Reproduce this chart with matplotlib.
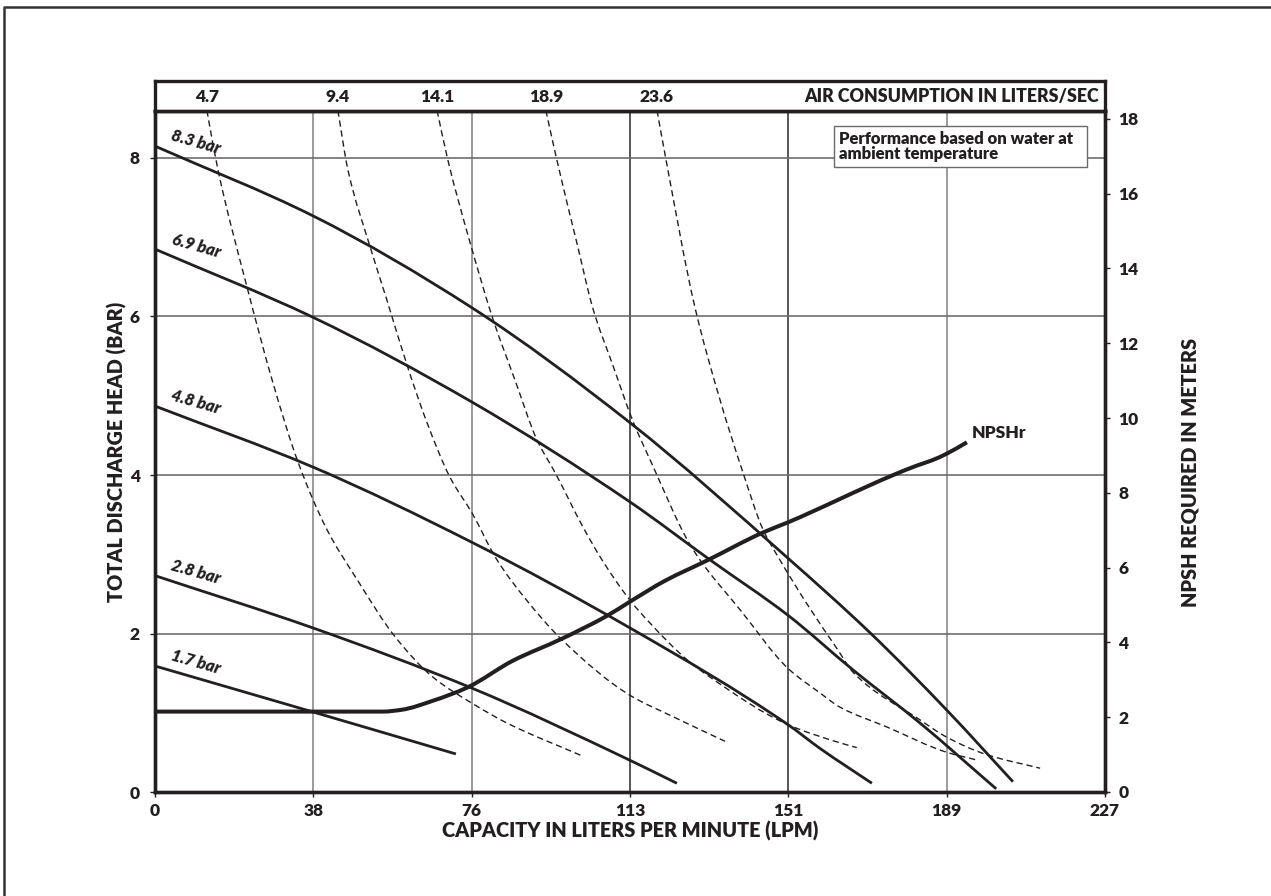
import matplotlib
matplotlib.use("Agg")
import matplotlib.pyplot as plt
import numpy as np
from matplotlib.lines import Line2D
from matplotlib.patches import Rectangle, PathPatch
from matplotlib.path import Path

# ---------------- data ----------------
capacity_tick_labels = ["0", "38", "76", "113", "151", "189", "227"]
head_ticks = [0, 2, 4, 6, 8]
npsh_ticks = [0, 2, 4, 6, 8, 10, 12, 14, 16, 18]

pressure_labels = ["8.3 bar", "6.9 bar", "4.8 bar", "2.8 bar", "1.7 bar"]
cap_83 = [0, 37.75, 75.75, 113.5, 151.25, 170.85, 189.25, 205.0]
head_83 = [8.15, 7.27, 6.11, 4.66, 2.95, 2.01, 1.03, 0.13]
cap_69 = [0, 37.75, 75.75, 113.5, 132.6, 151.25, 166.8, 182.8, 201.0]
head_69 = [6.85, 5.99, 4.92, 3.66, 2.93, 2.23, 1.54, 0.87, 0.04]
cap_48 = [0, 37.75, 75.75, 113.5, 151.25, 158.9, 171.3]
head_48 = [4.87, 4.10, 3.15, 2.07, 0.85, 0.55, 0.11]
cap_28 = [0, 37.75, 75.75, 113.5, 124.7]
head_28 = [2.73, 2.07, 1.31, 0.40, 0.11]
cap_17 = [0, 37.75, 71.9]
head_17 = [1.59, 1.01, 0.48]

npsh_cap = [0, 54.5, 59.0, 66.4, 74.55, 85.5, 97.25, 108.0, 113.5, 121.9,
            131.9, 145.3, 151.25, 176.3, 182.1, 185.7, 189.25, 194.0]
npsh_m = [2.15, 2.15, 2.20, 2.44, 2.79, 3.51, 4.10, 4.71, 5.09, 5.65,
          6.19, 6.94, 7.21, 8.47, 8.73, 8.87, 9.05, 9.35]

air_labels = ["4.7", "9.4", "14.1", "18.9", "23.6"]
air_47_cap = [12.4, 15.05, 22.0, 28.2, 34.2, 41.1, 48.3, 57.35, 66.4, 75.75, 84.1, 102.3]
air_47_head = [8.6, 7.85, 6.37, 5.16, 4.16, 3.31, 2.68, 1.96, 1.45, 1.12, 0.87, 0.45]
air_94_cap = [43.7, 46.1, 51.4, 55.4, 60.45, 65.0, 70.5, 75.75, 81.7, 88.8, 97.25, 113.5, 123.8, 136.2]
air_94_head = [8.6, 7.85, 6.88, 6.21, 5.35, 4.66, 3.97, 3.52, 2.93, 2.42, 1.92, 1.22, 0.95, 0.64]
air_141_cap = [67.4, 70.0, 75.3, 80.8, 86.0, 91.3, 95.6, 102.3, 106.8, 113.5, 118.3, 127.1, 132.6, 151.25, 163.7, 167.7]
air_141_head = [8.6, 7.97, 6.93, 5.96, 5.20, 4.44, 4.03, 3.34, 2.93, 2.42, 2.13, 1.67, 1.45, 0.85, 0.62, 0.56]
air_189_cap = [93.4, 96.0, 100.8, 104.7, 109.5, 114.2, 119.0, 127.1, 130.2, 139.8, 151.25, 158.9, 163.7, 174.9, 189.25, 196.7]
air_189_head = [8.6, 7.98, 6.93, 6.09, 5.37, 4.68, 4.11, 3.19, 2.93, 2.30, 1.56, 1.25, 1.07, 0.82, 0.50, 0.40]
air_236_cap = [119.95, 122.1, 129.0, 135.0, 140.5, 145.3, 149.3, 155.7, 163.2, 166.8, 182.8, 189.25, 198.8, 211.5]
air_236_head = [8.6, 7.98, 6.12, 4.95, 4.03, 3.31, 2.93, 2.38, 1.79, 1.51, 0.91, 0.69, 0.47, 0.30]

# ---------------- style ----------------
INK = "#231f20"
plt.rcParams["font.family"] = ["Lato", "DejaVu Sans"]
WT = "heavy"

W, H = 1271, 896
fig = plt.figure(figsize=(W / 100, H / 100), dpi=100)
fig.patch.set_facecolor("white")


def fx(px):
    return px / W


def fy(py):
    return 1 - py / H


def smooth_curve(a, xs, ys, **kw):
    """Draw a smooth Bezier path through the read points (monotone Hermite tangents)."""
    x = np.asarray(xs, float)
    y = np.asarray(ys, float)
    n = len(x)
    h = np.diff(x)
    d = np.diff(y) / h
    m = np.zeros(n)
    m[0], m[-1] = d[0], d[-1]
    for k in range(1, n - 1):
        if d[k - 1] * d[k] <= 0:
            m[k] = 0.0
        else:
            w1 = 2 * h[k] + h[k - 1]
            w2 = h[k] + 2 * h[k - 1]
            m[k] = (w1 + w2) / (w1 / d[k - 1] + w2 / d[k])
    verts = [(x[0], y[0])]
    codes = [Path.MOVETO]
    for k in range(n - 1):
        t = h[k] / 3.0
        verts += [(x[k] + t, y[k] + m[k] * t),
                  (x[k + 1] - t, y[k + 1] - m[k + 1] * t),
                  (x[k + 1], y[k + 1])]
        codes += [Path.CURVE4] * 3
    patch = PathPatch(Path(verts, codes), fc="none", transform=a.transData, **kw)
    a.add_patch(patch)
    return patch


L, R, T, B, BT = 155, 1105, 111, 792, 81
ax = fig.add_axes([fx(L), fy(B), fx(R) - fx(L), fy(T) - fy(B)])
band = fig.add_axes([fx(L), fy(T), fx(R) - fx(L), fy(BT) - fy(T)])

XMAX = 227.0
ax.set_xlim(0, XMAX)
ax.set_ylim(0, (B - T) / 79.25)

ax2 = ax.twinx()
ax2.set_ylim(0, (B - T) / 37.4)

# ticks
xt = np.linspace(0, XMAX, len(capacity_tick_labels))
ax.set_xticks(xt)
ax.set_xticklabels(capacity_tick_labels)
ax.set_yticks(head_ticks)
ax.set_yticklabels([str(v) for v in head_ticks])
ax2.set_yticks(npsh_ticks)
ax2.set_yticklabels([str(v) for v in npsh_ticks])

for a in (ax, ax2):
    a.tick_params(colors=INK, labelsize=12.5, width=1.0, length=3.5,
                  direction="out", labelcolor=INK)
    for lab in a.get_xticklabels() + a.get_yticklabels():
        lab.set_fontweight(WT)
ax.tick_params(axis="x", pad=4.5)
ax.tick_params(axis="y", pad=7.5)
ax2.tick_params(axis="y", pad=6)

# grid
for i, v in enumerate(xt[1:-1], start=1):
    col = "#3a3a3a" if capacity_tick_labels[i] in ("113", "151") else "#8a8a8a"
    ax.axvline(v, color=col, lw=1.2, zorder=1)
for v in head_ticks[1:]:
    ax.axhline(v, color="#6e6e6e", lw=1.2, zorder=1)

for a in (ax, ax2):
    for s in a.spines.values():
        s.set_linewidth(2.4)
        s.set_color(INK)

# pressure curves
series = [(cap_83, head_83), (cap_69, head_69), (cap_48, head_48),
          (cap_28, head_28), (cap_17, head_17)]
for (cx, hy), lab in zip(series, pressure_labels):
    smooth_curve(ax, cx, hy, ec=INK, lw=2.0, zorder=4, capstyle="butt")
    ax.annotate(lab, xy=(cx[0], hy[0]), xytext=(29.5, 2.5),
                textcoords="offset points", ha="center", va="center",
                rotation=-16, fontsize=12, fontstyle="italic",
                fontweight=WT, color=INK, zorder=6)

# air consumption curves
air_series = [(air_47_cap, air_47_head), (air_94_cap, air_94_head),
              (air_141_cap, air_141_head), (air_189_cap, air_189_head),
              (air_236_cap, air_236_head)]
for cx, hy in air_series:
    smooth_curve(ax, cx, hy, ec=INK, lw=1.0, ls=(0, (4.5, 2.8)), zorder=3)

# NPSHr
smooth_curve(ax2, npsh_cap, npsh_m, ec=INK, lw=2.9, zorder=5, capstyle="butt")
ax2.annotate("NPSHr", xy=(npsh_cap[-1], npsh_m[-1]), xytext=(3.6, 7),
             textcoords="offset points", ha="left", va="center",
             fontsize=12.5, fontweight=WT, color=INK)

# band with air consumption labels
band.set_xlim(0, XMAX)
band.set_ylim(0, 1)
band.set_xticks([])
band.set_yticks([])
for s in band.spines.values():
    s.set_linewidth(2.4)
    s.set_color(INK)
for (cx, hy), lab in zip(air_series, air_labels):
    band.text(cx[0], 0.48, lab, ha="center", va="center", fontsize=12.5,
              fontweight=WT, color=INK)
band.text(0.994, 0.48, "AIR CONSUMPTION IN LITERS/SEC", transform=band.transAxes,
          ha="right", va="center", fontsize=12.8, fontweight=WT, color=INK)

# note box
ax.add_patch(Rectangle((fx(834), fy(167)), fx(1087) - fx(834), fy(126) - fy(167),
                       transform=fig.transFigure, fc="white", ec="#6a6a6a",
                       lw=1.0, zorder=3.5))
ax.text(fx(839), fy(146.5), "Performance based on water at\nambient temperature",
        transform=fig.transFigure, ha="left", va="center", fontsize=12,
        fontweight=WT, color=INK, linespacing=0.9, zorder=7)

# axis titles
fig.text(fx(117), fy(452), "TOTAL DISCHARGE HEAD (BAR)", rotation=90,
         ha="center", va="center", fontsize=14.3, fontweight=WT, color=INK)
fig.text(fx(1190), fy(472), "NPSH REQUIRED IN METERS", rotation=90,
         ha="center", va="center", fontsize=14.3, fontweight=WT, color=INK)
fig.text(fx(630), fy(831), "CAPACITY IN LITERS PER MINUTE (LPM)",
         ha="center", va="center", fontsize=14.3, fontweight=WT, color=INK)

# outer frame (top and left edges visible)
fig.add_artist(Line2D([fx(4), fx(4), 1.0], [0.0, fy(7), fy(7)],
                      transform=fig.transFigure, color="#333333", lw=1.8))

fig.savefig("out.png", dpi=100, facecolor="white")
